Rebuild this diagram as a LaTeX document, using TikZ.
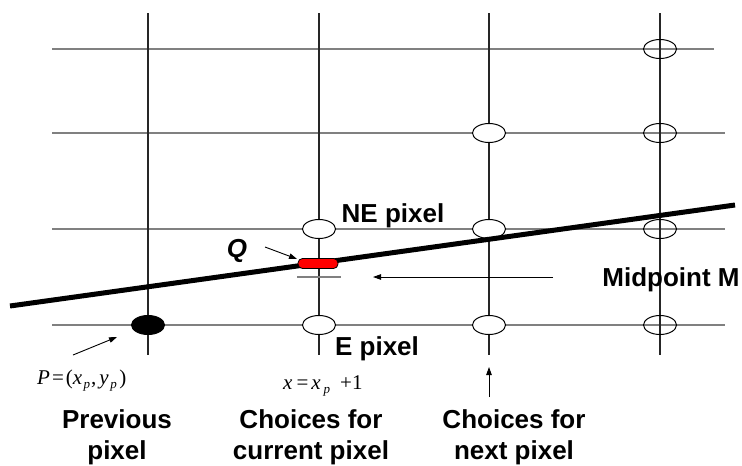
\documentclass[tikz,border=0pt]{standalone}
\usepackage{fontspec}
\setmainfont{Liberation Sans}
\newfontfamily\serifmath{Liberation Serif}
\usetikzlibrary{shapes.geometric,arrows.meta}
\newcommand{\psub}[1]{\raisebox{-0.45ex}{\fontsize{13}{13}\selectfont\itshape #1}}
\begin{document}
\begin{tikzpicture}[x=1pt,y=-1pt,
  gridh/.style={draw=black!50, line width=1.5pt},
  gridv/.style={draw=black!85, line width=1.1pt},
  pix/.style={ellipse, draw=black, line width=1pt, minimum width=33pt, minimum height=19pt, inner sep=0pt},
  lbl/.style={font=\fontsize{26}{31}\selectfont\bfseries, inner sep=0pt},
  mth/.style={font=\serifmath\fontsize{21}{21}\selectfont, inner sep=0pt},
  arr/.style={-{Triangle[length=8pt,width=5.5pt]}, line width=0.9pt}]
\useasboundingbox (0,0) rectangle (742,466);
% horizontal grid
\draw[gridh] (52,49) -- (714,49);
\draw[gridh] (52,133) -- (725,133);
\draw[gridh] (52,229) -- (725,229);
\draw[gridh] (52,325) -- (725,325);
% vertical grid
\foreach \x in {148,319,489,660} \draw[gridv] (\x,13) -- (\x,355);
% midpoint tick
\draw[gridh] (297,277) -- (341,277);
% pixels
\node[pix, fill=white] (ne) at (319,229) {};
\node[pix, fill=white] (e) at (319,325) {};
\node[pix, fill=black] (prev) at (148,325) {};
\node[pix, fill=white] (n1) at (489,133) {};
\node[pix, fill=white] (n2) at (489,229) {};
\node[pix, fill=white] (n3) at (489,325) {};
\node[pix] (f1) at (660,49) {};
\node[pix] (f2) at (660,133) {};
\node[pix] (f3) at (660,229) {};
\node[pix] (f4) at (660,325) {};
% the line
\coordinate (lstart) at (10,306);
\coordinate (lend) at (735,205);
\draw[line width=5pt] (lstart) -- (lend);
% Q segment
\node[draw=black, fill=red, rounded corners=4.5pt, minimum width=40pt, minimum height=10pt, inner sep=0pt, line width=0.8pt] (q) at (318,263.5) {};
% labels
\node[lbl, anchor=base] (nelbl) at (393,222) {NE pixel};
\node[lbl, anchor=base] (elbl) at (377,355) {E pixel};
\node[lbl, anchor=base] (mlbl) at (671,286) {Midpoint M};
\node[lbl, anchor=base, font=\fontsize{26}{31}\selectfont\bfseries\itshape] (qlbl) at (237,257) {Q};
\node[mth, anchor=base west] (plbl) at (37,384) {\itshape P\upshape\hspace{2pt}=\hspace{2pt}(\itshape x\hspace{1.5pt}\psub{p}\upshape\hspace{1pt},\hspace{3pt}\itshape y\hspace{1.5pt}\psub{p}\upshape\hspace{2.5pt})};
\node[mth, anchor=base west] (xlbl) at (283,389) {\itshape x\upshape\hspace{4pt}=\hspace{3pt}\itshape x\hspace{3pt}\psub{p}\upshape\hspace{10pt}+1};
\node[lbl, align=center, anchor=north] (b1) at (117,409) {Previous\\pixel};
\node[lbl, align=center, anchor=north] (b2) at (311,409) {Choices for\\current pixel};
\node[lbl, align=center, anchor=north] (b3) at (514,409) {Choices for\\next pixel};
% arrows
\coordinate (ptail) at (73,355);
\coordinate (phead) at (117,337);
\draw[arr] (ptail) -- (phead);
\coordinate (qtail) at (265,247);
\coordinate (qhead) at (297,259);
\draw[arr] (qtail) -- (qhead);
\coordinate (mtail) at (553,277);
\coordinate (mhead) at (373,277);
\draw[arr] (mtail) -- (mhead);
\coordinate (ntail) at (489,397);
\coordinate (nhead) at (489,367);
\draw[arr] (ntail) -- (nhead);
\end{tikzpicture}
\end{document}
